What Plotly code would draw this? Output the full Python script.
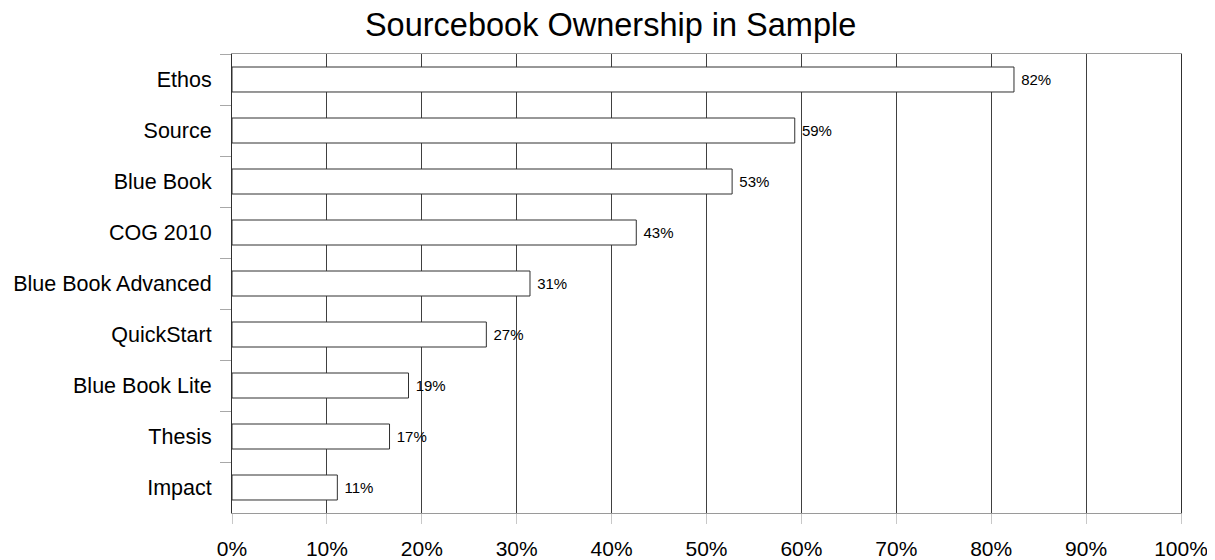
import plotly.graph_objects as go

# Data (share of sample owning each sourcebook, %)
books = ['Ethos', 'Source', 'Blue Book', 'COG 2010', 'Blue Book Advanced',
         'QuickStart', 'Blue Book Lite', 'Thesis', 'Impact']
ownership = [82.4, 59.3, 52.7, 42.6, 31.4, 26.8, 18.6, 16.6, 11.1]

font_family = 'Liberation Sans, Arial, sans-serif'

fig = go.Figure()
fig.add_trace(go.Bar(x=ownership, y=books, orientation='h',
                     marker=dict(color='white', line=dict(color='#303030', width=1)),
                     texttemplate='\u00a0%{x:.0f}%', textposition='outside',
                     textfont=dict(size=15, color='black', family=font_family),
                     cliponaxis=False, hoverinfo='x+y'))

# the page body has an 8px default margin, so margins are offset to compensate
fig.update_layout(
    title=dict(text='Sourcebook Ownership in Sample', x=0.496, xanchor='center',
               y=0.97, yanchor='middle',
               font=dict(size=32.5, color='black', family=font_family)),
    width=1215, height=560,
    margin=dict(l=224, r=42, t=46, b=55),
    paper_bgcolor='white', plot_bgcolor='white',
    font=dict(family=font_family, color='black'),
    bargap=0.51, showlegend=False)

fig.update_xaxes(range=[0, 100], dtick=10, ticksuffix='%', automargin=False,
                 showgrid=True, gridcolor='#404040', gridwidth=1, zeroline=False,
                 showline=True, linecolor='#9a9a9a', linewidth=1, mirror=True,
                 ticks='outside', ticklen=10, tickcolor='#c8c8c8',
                 ticklabelstandoff=7, tickfont=dict(size=21))

fig.update_yaxes(autorange='reversed', showgrid=False, automargin=False,
                 showline=True, linecolor='#303030', linewidth=1, mirror=True,
                 ticks='outside', tickson='boundaries', ticklen=11, tickcolor='#a8a8a8',
                 ticklabelstandoff=15, tickfont=dict(size=21.5))

fig.write_html('out.html')
